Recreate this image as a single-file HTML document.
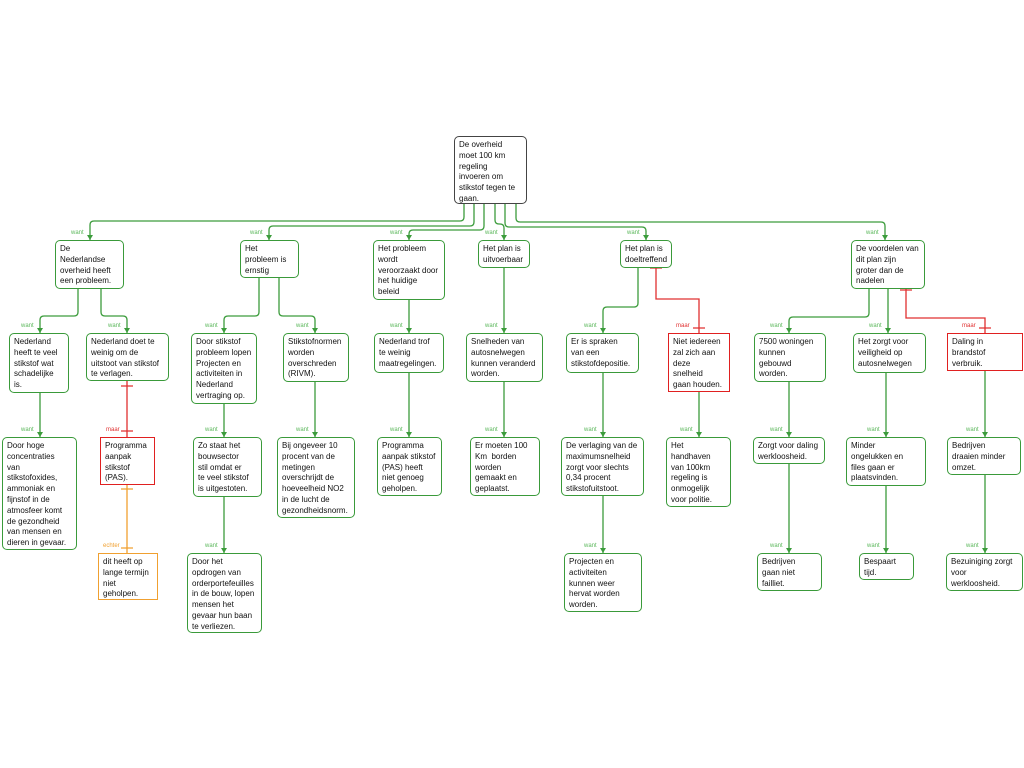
<!DOCTYPE html>
<html><head><meta charset="utf-8"><style>
body{margin:0;width:1024px;height:768px;background:#fff;position:relative;overflow:hidden;font-family:"Liberation Sans",sans-serif}
.b{position:absolute;box-sizing:border-box;border:1px solid #3a9a3a;border-radius:5px;background:#fff;font-size:8px;line-height:10.8px;padding:3px 4px;color:#111;white-space:nowrap}
.r{border-color:#e02020;border-radius:0}
.o{border:1.3px solid #f0a030;border-radius:0}
.root{border-color:#444;border-width:1.5px}
.l{position:absolute;font-size:6px;color:#5cb85c}
.lr{color:#e03030}.lo{color:#f0a030}
svg{position:absolute;left:0;top:0}
</style></head><body>
<svg width="1024" height="768" fill="none" stroke-width="1.3">
<g stroke="#3c9c3c">
<path d="M464 204V217Q464 221 460 221H94Q90 221 90 225V240"/>
<path d="M474 204V222Q474 226 470 226H273Q269 226 269 230V240"/>
<path d="M484 204V226Q484 230 480 230H413Q409 230 409 234V240"/>
<path d="M495 204V220Q495 224 499 224H500Q504 224 504 228V240"/>
<path d="M505 204V223Q505 227 509 227H642Q646 227 646 231V240"/>
<path d="M516 204V218Q516 222 520 222H881Q885 222 885 226V240"/>
<path d="M78 289V312Q78 316 74 316H44Q40 316 40 320V333"/>
<path d="M101 289V312Q101 316 105 316H123Q127 316 127 320V333"/>
<path d="M259 278V312Q259 316 255 316H228Q224 316 224 320V333"/>
<path d="M279 278V312Q279 316 283 316H311Q315 316 315 320V333"/>
<path d="M409 300V333M504 268V333"/>
<path d="M638 268V303Q638 307 634 307H607Q603 307 603 311V333"/>
<path d="M869 289V313Q869 317 865 317H793Q789 317 789 321V333"/>
<path d="M888 289V333"/>
<path d="M40 393V437M224 404V437M315 382V437M409 373V437M504 382V437M603 371V437M699 392V437M789 382V437M886 373V437M985 371V437"/>
<path d="M224 497V553M603 496V553M789 464V553M886 486V553M985 475V553"/>
</g>
<g stroke="#e03030">
<path d="M127 381V437M121 386H133M121 431H133"/>
<path d="M656 268V299H699V333M650 268H662M693 328H705"/>
<path d="M906 289V318H985V333M900 290H912M979 328H991"/>
</g>
<g stroke="#f0a030"><path d="M127 485V553M121 489H133M121 548H133"/></g>
<g fill="#3c9c3c">
<path d="M87 235L93 235L90 240Z M266 235L272 235L269 240Z M406 235L412 235L409 240Z M501 235L507 235L504 240Z M643 235L649 235L646 240Z M882 235L888 235L885 240Z"/>
<path d="M37 328L43 328L40 333Z M124 328L130 328L127 333Z M221 328L227 328L224 333Z M312 328L318 328L315 333Z M406 328L412 328L409 333Z M501 328L507 328L504 333Z M600 328L606 328L603 333Z M786 328L792 328L789 333Z M885 328L891 328L888 333Z"/>
<path d="M37 432L43 432L40 437Z M221 432L227 432L224 437Z M312 432L318 432L315 437Z M406 432L412 432L409 437Z M501 432L507 432L504 437Z M600 432L606 432L603 437Z M696 432L702 432L699 437Z M786 432L792 432L789 437Z M883 432L889 432L886 437Z M982 432L988 432L985 437Z"/>
<path d="M221 548L227 548L224 553Z M600 548L606 548L603 553Z M786 548L792 548L789 553Z M883 548L889 548L886 553Z M982 548L988 548L985 553Z"/>
</g>
</svg>

<div class="b root" style="left:454px;top:136px;width:73px;height:68px">De overheid<br>moet 100 km<br>regeling<br>invoeren om<br>stikstof tegen te<br>gaan.</div>

<div class="b" style="left:55px;top:240px;width:69px;height:49px">De<br>Nederlandse<br>overheid heeft<br>een probleem.</div>
<div class="b" style="left:240px;top:240px;width:59px;height:38px">Het<br>probleem is<br>ernstig</div>
<div class="b" style="left:373px;top:240px;width:72px;height:60px">Het probleem<br>wordt<br>veroorzaakt door<br>het huidige<br>beleid</div>
<div class="b" style="left:478px;top:240px;width:52px;height:28px">Het plan is<br>uitvoerbaar</div>
<div class="b" style="left:620px;top:240px;width:52px;height:28px">Het plan is<br>doeltreffend</div>
<div class="b" style="left:851px;top:240px;width:74px;height:49px">De voordelen van<br>dit plan zijn<br>groter dan de<br>nadelen</div>

<div class="b" style="left:9px;top:333px;width:60px;height:60px">Nederland<br>heeft te veel<br>stikstof wat<br>schadelijke<br>is.</div>
<div class="b" style="left:86px;top:333px;width:83px;height:48px">Nederland doet te<br>weinig om de<br>uitstoot van stikstof<br>te verlagen.</div>
<div class="b" style="left:191px;top:333px;width:66px;height:71px">Door stikstof<br>probleem lopen<br>Projecten en<br>activiteiten in<br>Nederland<br>vertraging op.</div>
<div class="b" style="left:283px;top:333px;width:66px;height:49px">Stikstofnormen<br>worden<br>overschreden<br>(RIVM).</div>
<div class="b" style="left:374px;top:333px;width:70px;height:40px">Nederland trof<br>te weinig<br>maatregelingen.</div>
<div class="b" style="left:466px;top:333px;width:77px;height:49px">Snelheden van<br>autosnelwegen<br>kunnen veranderd<br>worden.</div>
<div class="b" style="left:566px;top:333px;width:73px;height:40px">Er is spraken<br>van een<br>stikstofdepositie.</div>
<div class="b r" style="left:668px;top:333px;width:62px;height:59px">Niet iedereen<br>zal zich aan<br>deze<br>snelheid<br>gaan houden.</div>
<div class="b" style="left:754px;top:333px;width:72px;height:49px">7500 woningen<br>kunnen<br>gebouwd<br>worden.</div>
<div class="b" style="left:853px;top:333px;width:73px;height:40px">Het zorgt voor<br>veiligheid op<br>autosnelwegen</div>
<div class="b r" style="left:947px;top:333px;width:76px;height:38px">Daling in<br>brandstof<br>verbruik.</div>

<div class="b" style="left:2px;top:437px;width:75px;height:113px">Door hoge<br>concentraties<br>van<br>stikstofoxides,<br>ammoniak en<br>fijnstof in de<br>atmosfeer komt<br>de gezondheid<br>van mensen en<br>dieren in gevaar.</div>
<div class="b r" style="left:100px;top:437px;width:55px;height:48px">Programma<br>aanpak<br>stikstof<br>(PAS).</div>
<div class="b" style="left:193px;top:437px;width:69px;height:60px">Zo staat het<br>bouwsector<br>stil omdat er<br>te veel stikstof<br>is uitgestoten.</div>
<div class="b" style="left:277px;top:437px;width:78px;height:81px">Bij ongeveer 10<br>procent van de<br>metingen<br>overschrijdt de<br>hoeveelheid NO2<br>in de lucht de<br>gezondheidsnorm.</div>
<div class="b" style="left:377px;top:437px;width:65px;height:59px">Programma<br>aanpak stikstof<br>(PAS) heeft<br>niet genoeg<br>geholpen.</div>
<div class="b" style="left:470px;top:437px;width:70px;height:59px">Er moeten 100<br>Km&nbsp; borden<br>worden<br>gemaakt en<br>geplaatst.</div>
<div class="b" style="left:561px;top:437px;width:83px;height:59px">De verlaging van de<br>maximumsnelheid<br>zorgt voor slechts<br>0,34 procent<br>stikstofuitstoot.</div>
<div class="b" style="left:666px;top:437px;width:65px;height:70px">Het<br>handhaven<br>van 100km<br>regeling is<br>onmogelijk<br>voor politie.</div>
<div class="b" style="left:753px;top:437px;width:72px;height:27px">Zorgt voor daling<br>werkloosheid.</div>
<div class="b" style="left:846px;top:437px;width:80px;height:49px">Minder<br>ongelukken en<br>files gaan er<br>plaatsvinden.</div>
<div class="b" style="left:947px;top:437px;width:74px;height:38px">Bedrijven<br>draaien minder<br>omzet.</div>

<div class="b o" style="left:98px;top:553px;width:60px;height:47px">dit heeft op<br>lange termijn<br>niet<br>geholpen.</div>
<div class="b" style="left:187px;top:553px;width:75px;height:80px">Door het<br>opdrogen van<br>orderportefeuilles<br>in de bouw, lopen<br>mensen het<br>gevaar hun baan<br>te verliezen.</div>
<div class="b" style="left:564px;top:553px;width:78px;height:59px">Projecten en<br>activiteiten<br>kunnen weer<br>hervat worden<br>worden.</div>
<div class="b" style="left:757px;top:553px;width:65px;height:38px">Bedrijven<br>gaan niet<br>failliet.</div>
<div class="b" style="left:859px;top:553px;width:55px;height:27px">Bespaart<br>tijd.</div>
<div class="b" style="left:946px;top:553px;width:77px;height:38px">Bezuiniging zorgt<br>voor<br>werkloosheid.</div>

<div class="l" style="left:71px;top:230px">want</div>
<div class="l" style="left:250px;top:230px">want</div>
<div class="l" style="left:390px;top:230px">want</div>
<div class="l" style="left:485px;top:230px">want</div>
<div class="l" style="left:627px;top:230px">want</div>
<div class="l" style="left:866px;top:230px">want</div>

<div class="l" style="left:21px;top:323px">want</div>
<div class="l" style="left:108px;top:323px">want</div>
<div class="l" style="left:205px;top:323px">want</div>
<div class="l" style="left:296px;top:323px">want</div>
<div class="l" style="left:390px;top:323px">want</div>
<div class="l" style="left:485px;top:323px">want</div>
<div class="l" style="left:584px;top:323px">want</div>
<div class="l lr" style="left:676px;top:323px">maar</div>
<div class="l" style="left:770px;top:323px">want</div>
<div class="l" style="left:869px;top:323px">want</div>
<div class="l lr" style="left:962px;top:323px">maar</div>

<div class="l" style="left:21px;top:427px">want</div>
<div class="l lr" style="left:106px;top:427px">maar</div>
<div class="l" style="left:205px;top:427px">want</div>
<div class="l" style="left:296px;top:427px">want</div>
<div class="l" style="left:390px;top:427px">want</div>
<div class="l" style="left:485px;top:427px">want</div>
<div class="l" style="left:584px;top:427px">want</div>
<div class="l" style="left:680px;top:427px">want</div>
<div class="l" style="left:770px;top:427px">want</div>
<div class="l" style="left:867px;top:427px">want</div>
<div class="l" style="left:966px;top:427px">want</div>

<div class="l lo" style="left:103px;top:543px">echter</div>
<div class="l" style="left:205px;top:543px">want</div>
<div class="l" style="left:584px;top:543px">want</div>
<div class="l" style="left:770px;top:543px">want</div>
<div class="l" style="left:867px;top:543px">want</div>
<div class="l" style="left:966px;top:543px">want</div>
</body></html>
